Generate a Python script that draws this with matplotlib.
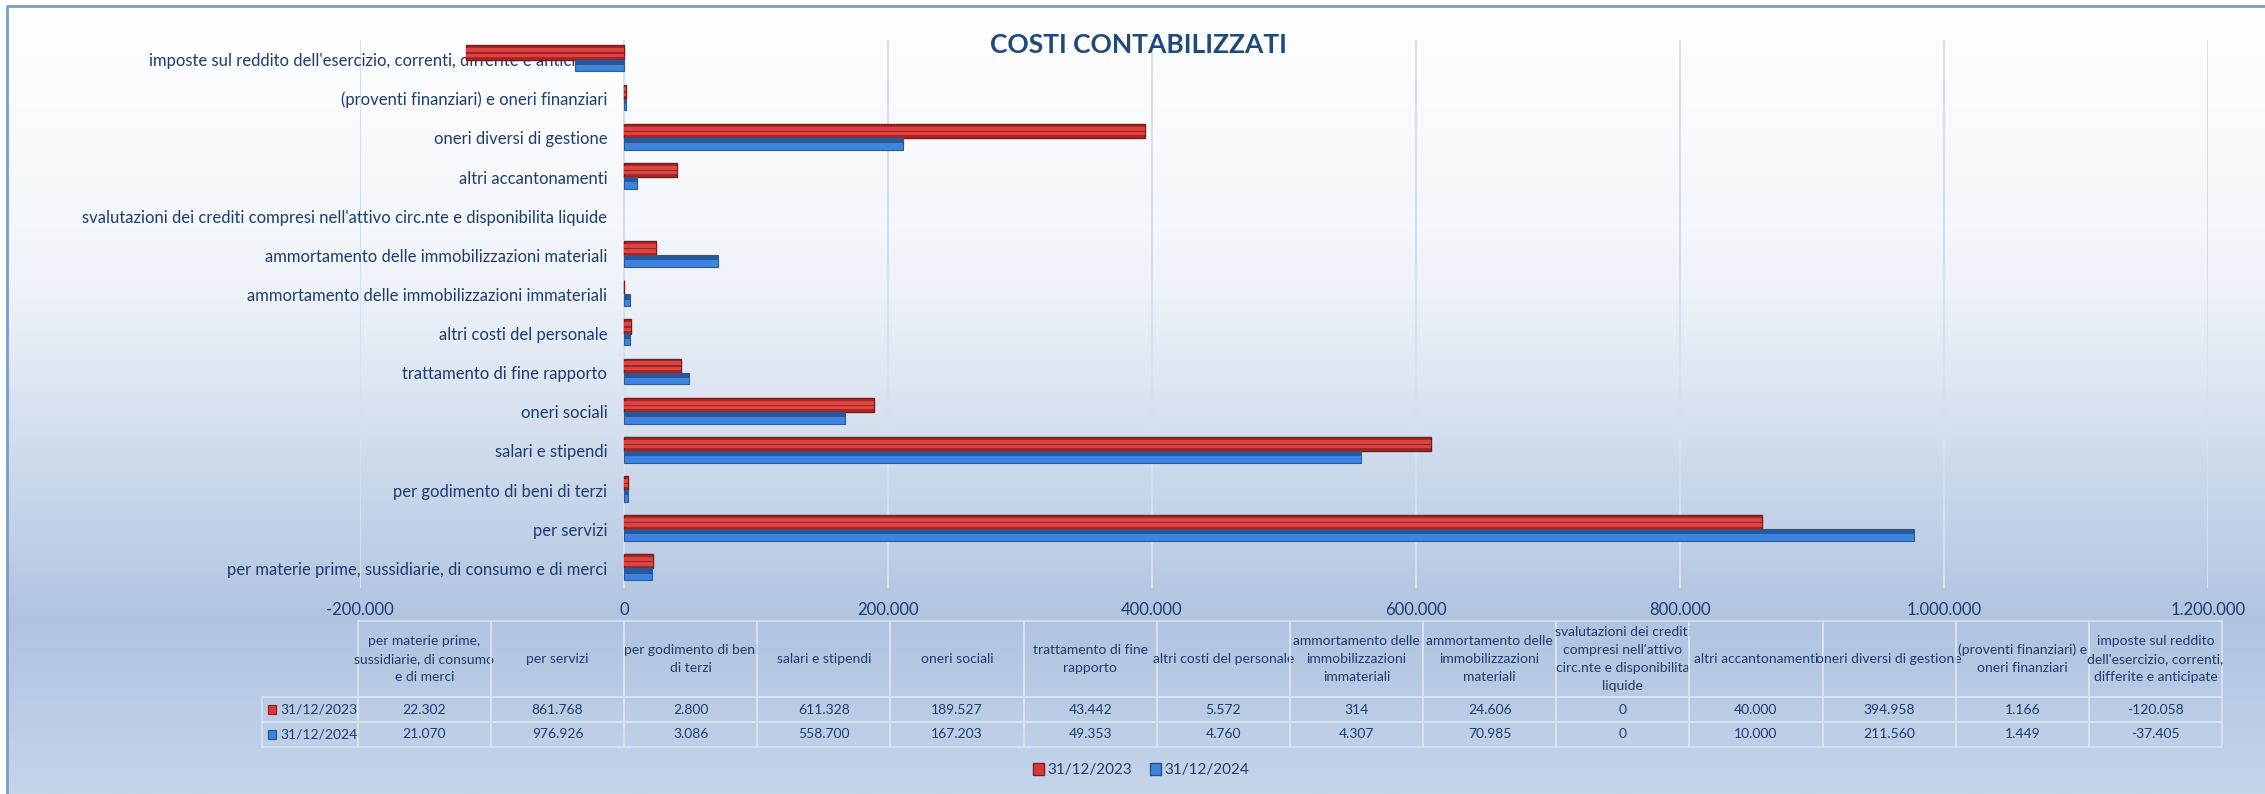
import matplotlib
matplotlib.use('Agg')
import matplotlib.pyplot as plt
import numpy as np
from matplotlib.patches import Rectangle, Patch

# --- data ---
categories = [
    'per materie prime, sussidiarie, di consumo e di merci',
    'per servizi',
    'per godimento di beni di terzi',
    'salari e stipendi',
    'oneri sociali',
    'trattamento di fine rapporto',
    'altri costi del personale',
    'ammortamento delle immobilizzazioni immateriali',
    'ammortamento delle immobilizzazioni materiali',
    "svalutazioni dei crediti compresi nell'attivo circ.nte e disponibilita liquide",
    'altri accantonamenti',
    'oneri diversi di gestione',
    '(proventi finanziari) e oneri finanziari',
    "imposte sul reddito dell'esercizio, correnti, differite e anticipate",
]
header_labels = [
    'per materie prime,\nsussidiarie, di consumo\ne di merci',
    'per servizi',
    'per godimento di beni\ndi terzi',
    'salari e stipendi',
    'oneri sociali',
    'trattamento di fine\nrapporto',
    'altri costi del personale',
    'ammortamento delle\nimmobilizzazioni\nimmateriali',
    'ammortamento delle\nimmobilizzazioni\nmateriali',
    "svalutazioni dei crediti\ncompresi nell'attivo\ncirc.nte e disponibilita\nliquide",
    'altri accantonamenti',
    'oneri diversi di gestione',
    '(proventi finanziari) e\noneri finanziari',
    "imposte sul reddito\ndell'esercizio, correnti,\ndifferite e anticipate",
]
series_names = ['31/12/2023', '31/12/2024']
values_2023 = [22302, 861768, 2800, 611328, 189527, 43442, 5572, 314, 24606, 0, 40000, 394958, 1166, -120058]
values_2024 = [21070, 976926, 3086, 558700, 167203, 49353, 4760, 4307, 70985, 0, 10000, 211560, 1449, -37405]
x_ticks = [-200000, 0, 200000, 400000, 600000, 800000, 1000000, 1200000]

title = 'COSTI CONTABILIZZATI'

plt.rcParams['font.family'] = ['Lato', 'DejaVu Sans']
txt_color = '#1F3C6C'

W, H = 2265, 794
fig = plt.figure(figsize=(W / 100, H / 100), dpi=100)


def box(l, t, r, b):
    return [l / W, 1 - b / H, (r - l) / W, (b - t) / H]


def fmt(v):
    return f'{v:,}'.replace(',', '.')


# background gradient + frame
bg = fig.add_axes([0, 0, 1, 1], zorder=-10)
bg.set_xlim(0, W)
bg.set_ylim(H, 0)
bg.axis('off')
pos = np.linspace(0, 1, 400)
stops = [0.0, 0.35, 0.78, 1.0]
cols = np.array([[255, 255, 255], [240, 244, 250], [176, 196, 224], [196, 213, 234]]) / 255
grad = np.stack([np.interp(pos, stops, cols[:, i]) for i in range(3)], axis=-1)[:, None, :]
bg.imshow(grad, aspect='auto', extent=[7, W, H, 6], interpolation='bilinear')
bg.plot([7, 7, W], [H, 6, 6], color='#7A9CCB', lw=2)

# main bar chart
ax = fig.add_axes(box(360, 40, 2208, 588))
ax.patch.set_alpha(0)
y = np.arange(len(categories))
v23 = np.array(values_2023)
v24 = np.array(values_2024)
lw23 = np.where(v23 != 0, 1.0, 0.0)
lw24 = np.where(v24 != 0, 0.8, 0.0)

# 2023 - red bars with a bevel look
ax.barh(y + 0.18, v23, height=0.36, color='#A82626', edgecolor='#7A1A1A', lw=lw23, zorder=3)
ax.barh(y + 0.18, v23, height=0.22, color='#DC4343', lw=0, zorder=4)
ax.barh(y + 0.17, v23, height=0.035, color='#9E2222', lw=0, zorder=5)
# 2024 - blue bars, dark top half
ax.barh(y - 0.15, v24, height=0.30, color='#3C84DF', edgecolor='#2A5C9C', lw=lw24, zorder=3)
ax.barh(y - 0.065, v24, height=0.13, color='#2B5796', lw=0, zorder=4)

ax.set_xlim(-200000, 1200000)
ax.set_ylim(-0.5, len(categories) - 0.5)
ax.set_xticks(x_ticks)
ax.set_xticklabels([fmt(t) for t in x_ticks])
ax.set_yticks(y)
ax.set_yticklabels(categories)
ax.grid(axis='x', color='#D3E0F0', lw=1.5, zorder=1)
for s in ax.spines.values():
    s.set_visible(False)
ax.spines['left'].set_position(('data', 0))
ax.tick_params(axis='y', length=0, pad=12, labelsize=12, labelcolor=txt_color)
ax.tick_params(axis='x', length=0, pad=10, labelsize=12, labelcolor=txt_color)

# data table
tax = fig.add_axes(box(262, 621, 2222, 747))
tax.axis('off')
tax.set_xlim(262, 2222)
tax.set_ylim(747, 621)
cell_text = [[''] + header_labels,
             [series_names[0]] + [fmt(v) for v in values_2023],
             [series_names[1]] + [fmt(v) for v in values_2024]]
col_w = [96] + [133.3] * len(categories)
tab = tax.table(cellText=cell_text, colWidths=col_w, cellLoc='center', bbox=[0, 0, 1, 1])
tab.auto_set_font_size(False)
tab.set_fontsize(10)
row_h = [76, 25, 25]
for (r, c), cell in tab.get_celld().items():
    cell.set_height(row_h[r])
    cell.set_facecolor('none')
    cell.set_edgecolor('#D8E3F0')
    cell.set_linewidth(1.2)
    cell.set_text_props(color=txt_color)
    if r == 0:
        cell.set_text_props(linespacing=1.6)
    if c == 0:
        if r == 0:
            cell.visible_edges = ''
        else:
            cell._loc = 'left'
            cell.PAD = 0.19
            cell.set_text_props(ha='left')

# legend keys in the table row labels
key_cols = [('#D43B3B', '#8E1B1B'), ('#3C84DF', '#24508C')]
for i, (fc, ec) in enumerate(key_cols):
    yc = 621 + 76 + 12.5 + 25 * i
    tax.add_patch(Rectangle((268, yc - 4.5), 8, 9, facecolor=fc, edgecolor=ec, lw=0.8, clip_on=False))

# title
fig.text(1138 / W, 1 - 45 / H, title, ha='center', va='center', fontsize=19,
         fontweight='bold', color='#1F497D')

# legend
handles = [Patch(facecolor=fc, edgecolor=ec) for fc, ec in key_cols]
fig.legend(handles, series_names, loc='center', bbox_to_anchor=(1141 / W, 1 - 770 / H),
           ncol=2, frameon=False, fontsize=11, handlelength=0.7, handleheight=0.8,
           handletextpad=0.2, columnspacing=1.2, labelcolor=txt_color)

fig.savefig('out.png', dpi=100)
